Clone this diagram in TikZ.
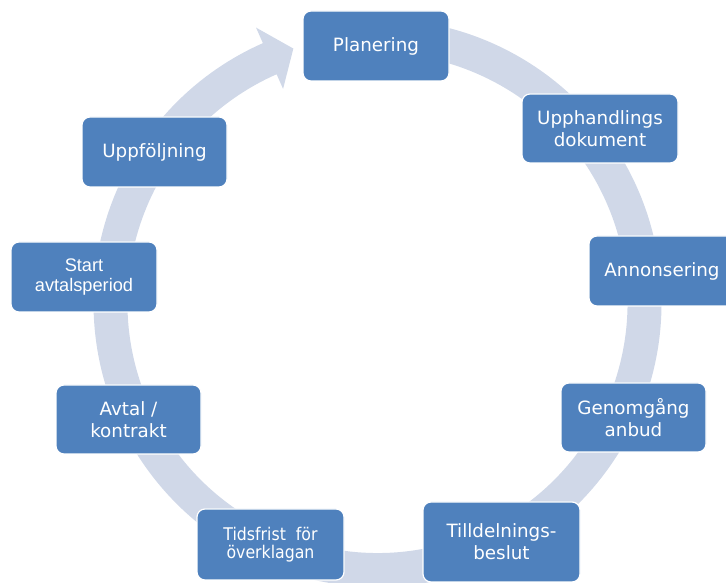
\documentclass[tikz,border=0pt]{standalone}
\usepackage{fontspec}
\setmainfont{DejaVu Sans}
\newfontfamily\arialfont{Liberation Sans}
\newfontfamily\narrowfont[FakeStretch=0.9]{DejaVu Sans}
\definecolor{boxblue}{RGB}{79,129,189}
\definecolor{ringgrey}{RGB}{208,216,232}
\begin{document}
\begin{tikzpicture}[x=1pt,y=1pt,
  stage/.style={rectangle, rounded corners=8pt, fill=boxblue, draw=white,
    line width=1.2pt, text=white, align=center, inner sep=0pt,
    font=\fontsize{18.3pt}{22pt}\selectfont},
  arialtext/.style={font=\arialfont\fontsize{18.2pt}{20.5pt}\selectfont},
  narrowtext/.style={font=\narrowfont\fontsize{17.5pt}{18.5pt}\selectfont},
  ring/.style={fill=ringgrey}
]
\useasboundingbox (0,0) rectangle (726,583);
\clip (0,0) rectangle (726,583);
% circular arrow
\begin{scope}[shift={(377.5,280)}]
\fill[ring] (95:284) arc[start angle=95,end angle=-246.2,radius=284]
  -- (-246.2:301) -- (-251.7:268) -- (-246.2:234) -- (-246.2:250)
  arc[start angle=-246.2,end angle=95,radius=250] -- cycle;
\end{scope}
% stages
\node[stage, minimum width=146pt, minimum height=70pt] (plan) at (376,537) {Planering};
\node[stage, minimum width=156pt, minimum height=69pt] (upph) at (600,454.5) {Upphandlings\\dokument};
\node[stage, minimum width=146pt, minimum height=70pt] (ann) at (662,312) {Annonsering};
\node[stage, minimum width=145pt, minimum height=69pt] (genom) at (633.5,165.5) {Genomgång\\anbud};
\node[stage, minimum width=157pt, minimum height=80pt] (till) at (501.5,41) {Tilldelnings-\\beslut};
\node[stage, narrowtext, minimum width=147pt, minimum height=71pt] (tids) at (270.5,38.5) {Tidsfrist\ \ för\\överklagan};
\node[stage, minimum width=145pt, minimum height=69pt] (avtal) at (128.5,163.5) {Avtal /\\kontrakt};
\node[stage, arialtext, minimum width=146pt, minimum height=70pt] (start) at (84,306) {Start\\avtalsperiod};
\node[stage, minimum width=145pt, minimum height=70pt] (uppf) at (154.5,431) {Uppföljning};
\end{tikzpicture}
\end{document}
